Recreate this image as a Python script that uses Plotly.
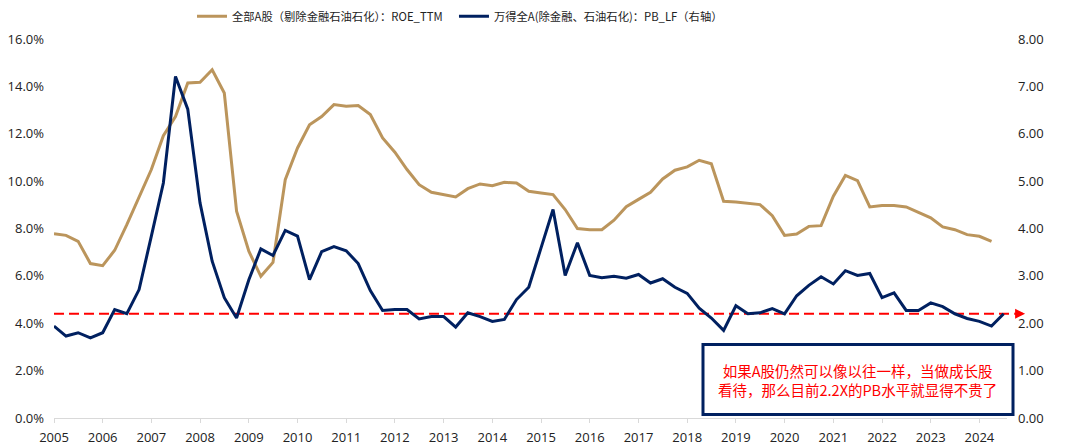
import pandas as pd
import plotly.graph_objects as go

# ---------------- data (quarterly) ----------------
quarters = pd.date_range("2005-01-01", periods=79, freq="QS")

roe_ttm = [7.78, 7.71, 7.46, 6.52, 6.43, 7.08, 8.16, 9.36, 10.49, 11.92,
           12.73, 14.14, 14.17, 14.70, 13.72, 8.73, 7.04, 5.98, 6.57, 10.06,
           11.40, 12.38, 12.73, 13.23, 13.16, 13.19, 12.81, 11.82, 11.22, 10.49,
           9.85, 9.53, 9.43, 9.33, 9.68, 9.88, 9.81, 9.95, 9.92, 9.57,
           9.50, 9.43, 8.80, 8.00, 7.95, 7.95, 8.35, 8.92, 9.23, 9.53,
           10.09, 10.46, 10.60, 10.88, 10.73, 9.15, 9.12, 9.08, 9.01, 8.54,
           7.71, 7.77, 8.09, 8.12, 9.36, 10.24, 10.02, 8.91, 8.97, 8.97,
           8.91, 8.68, 8.45, 8.07, 7.95, 7.74, 7.67, 7.46]

pb_lf = [1.94, 1.73, 1.80, 1.69, 1.80, 2.29, 2.20, 2.71, 3.84, 4.96,
         7.21, 6.52, 4.54, 3.31, 2.54, 2.11, 2.92, 3.57, 3.43, 3.96,
         3.84, 2.92, 3.51, 3.62, 3.53, 3.26, 2.69, 2.27, 2.29, 2.29,
         2.09, 2.14, 2.14, 1.92, 2.22, 2.14, 2.04, 2.08, 2.50, 2.76,
         3.59, 4.40, 3.01, 3.70, 3.01, 2.96, 2.99, 2.95, 3.03, 2.85,
         2.94, 2.76, 2.63, 2.32, 2.11, 1.85, 2.37, 2.20, 2.22, 2.31,
         2.20, 2.58, 2.80, 2.98, 2.83, 3.11, 3.01, 3.05, 2.54, 2.64,
         2.27, 2.27, 2.43, 2.35, 2.20, 2.10, 2.04, 1.94, 2.20]

PB_REF = 2.2

year_labels = [str(y) for y in range(2005, 2025)]
left_ticks = [0, 2, 4, 6, 8, 10, 12, 14, 16]
right_ticks = [0, 1, 2, 3, 4, 5, 6, 7, 8]

name_roe = "全部A股（剔除金融石油石化）：ROE_TTM"
name_pb = "万得全A(除金融、石油石化)：PB_LF（右轴）"
note_lines = ["如果A股仍然可以像以往一样，当做成长股",
              "看待，那么目前2.2X的PB水平就显得不贵了"]

# ---------------- styles ----------------
GOLD = "#BB955C"
NAVY = "#002060"
RED = "#FF0000"
CJK = "Noto Sans CJK SC"
NUM = "Open Sans"

fig = go.Figure()
fig.add_trace(go.Scatter(
    x=quarters[:len(roe_ttm)], y=roe_ttm, name=name_roe, mode="lines",
    line=dict(color=GOLD, width=3), yaxis="y", legend="legend", showlegend=True))
fig.add_trace(go.Scatter(
    x=quarters[:len(pb_lf)], y=pb_lf, name=name_pb, mode="lines",
    line=dict(color=NAVY, width=3), yaxis="y2", legend="legend2", showlegend=True))

# reference dashed line at PB = 2.2 with arrow head
fig.add_shape(type="line", xref="paper", yref="y2", x0=0, x1=1.008,
              y0=PB_REF, y1=PB_REF, line=dict(color=RED, width=2, dash="10px,5px"),
              layer="below")
fig.add_annotation(xref="paper", yref="y2", x=1.019, y=PB_REF, ax=-12, ay=0,
                   axref="pixel", ayref="pixel", text="", showarrow=True,
                   arrowhead=2, arrowsize=1, arrowwidth=2, arrowcolor=RED)

# comment box
fig.add_shape(type="rect", xref="paper", yref="paper", x0=0.681, x1=1.0063,
              y0=0.009, y1=0.194, line=dict(color=NAVY, width=3),
              fillcolor="white", layer="above")
fig.add_annotation(xref="paper", yref="paper", x=0.843, y=0.1005,
                   xanchor="center", yanchor="middle", align="center",
                   text="<br>".join(note_lines), showarrow=False,
                   font=dict(family=CJK, size=14.5, color=RED))

fig.update_layout(
    width=1080, height=447,
    showlegend=True,
    margin=dict(l=54, r=73, t=39, b=29, autoexpand=False),
    paper_bgcolor="white", plot_bgcolor="white",
    font=dict(family=NUM, size=13, color="#222222"),
    xaxis=dict(
        type="date",
        range=["2005-01-01", "2024-07-26"],
        tickvals=[f"{y}-01-01" for y in year_labels],
        ticktext=year_labels,
        showgrid=False, zeroline=False,
        showline=True, linecolor="#D9D9D9", linewidth=1,
        ticks="outside", ticklen=4, tickcolor="#D9D9D9",
        ticklabelstandoff=3,
        tickfont=dict(family=NUM, size=13, color="#222222"),
    ),
    yaxis=dict(
        range=[0, 16], tickvals=left_ticks,
        ticktext=[f"{v:.1f}%" for v in left_ticks],
        showgrid=False, zeroline=False, showline=False,
        ticks="", ticklabelstandoff=9,
        tickfont=dict(family=NUM, size=13, color="#222222"),
    ),
    yaxis2=dict(
        range=[0, 8], overlaying="y", side="right", tickvals=right_ticks,
        ticktext=[f"{v:.2f}" for v in right_ticks],
        showgrid=False, zeroline=False, showline=False,
        ticks="", ticklabelstandoff=10,
        tickfont=dict(family=NUM, size=13, color="#222222"),
    ),
    legend=dict(orientation="h", x=0.1448, xanchor="left", y=1.06, yanchor="middle",
                font=dict(family=CJK, size=11.3, color="#222222"),
                bgcolor="rgba(0,0,0,0)"),
    legend2=dict(orientation="h", x=0.4197, xanchor="left", y=1.06, yanchor="middle",
                 font=dict(family=CJK, size=11.3, color="#222222"),
                 bgcolor="rgba(0,0,0,0)"),
)

fig.write_html(
    "out.html",
    config={"displayModeBar": False},
    post_script="document.body.style.margin='0';document.body.style.overflow='hidden';",
)
